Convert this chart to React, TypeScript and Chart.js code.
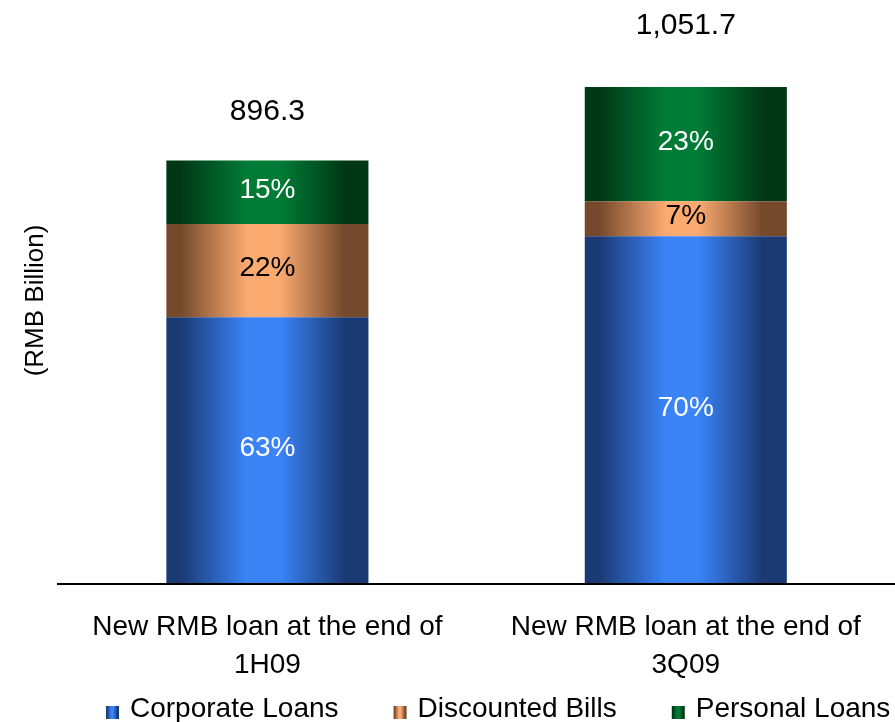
import { useEffect, useRef } from "react";
import { Chart, registerables } from "chart.js";

Chart.register(...registerables);

// Categories (two-line axis labels)
const categories: string[][] = [
  ["New RMB loan at the end of", "1H09"],
  ["New RMB loan at the end of", "3Q09"],
];

// New RMB loans, RMB billion, by type
const seriesNames = ["Corporate Loans", "Discounted Bills", "Personal Loans"];
const corporateLoans = [564.7, 736.2];
const discountedBills = [197.2, 73.6];
const personalLoans = [134.4, 241.9];

const Y_MAX = 1200;
const FONT = "'Liberation Sans', Arial, Helvetica, sans-serif";
const CAT_PCT = 1;
const BAR_PCT = 0.483;

// Cylinder-like horizontal shading for each series
const palette = [
  { dark: "#1b3a74", bright: "#3a84f8", text: "#ffffff" },
  { dark: "#74492c", bright: "#fbaa70", text: "#000000" },
  { dark: "#003816", bright: "#007c36", text: "#ffffff" },
];

// Gap between each total and the top of its stack
const totalOffsets = [49, 61];

const totals = corporateLoans.map(
  (v, i) => v + discountedBills[i] + personalLoans[i]
);
const formatTotal = (v: number) =>
  v.toLocaleString("en-US", { minimumFractionDigits: 1, maximumFractionDigits: 1 });

function fillGradient(
  ctx: CanvasRenderingContext2D,
  x0: number,
  x1: number,
  p: (typeof palette)[number]
) {
  const g = ctx.createLinearGradient(x0, 0, x1, 0);
  g.addColorStop(0, p.dark);
  g.addColorStop(0.07, p.dark);
  g.addColorStop(0.4, p.bright);
  g.addColorStop(0.56, p.bright);
  g.addColorStop(0.88, p.dark);
  g.addColorStop(1, p.dark);
  return g;
}

function barFill(series: number) {
  return (c: any) => {
    const chart = c.chart as Chart;
    const xs: any = chart.scales.x;
    if (!xs || !chart.chartArea) return palette[series].bright;
    const center = xs.getPixelForValue(c.dataIndex);
    const half = ((xs.width / categories.length) * CAT_PCT * BAR_PCT) / 2;
    return fillGradient(chart.ctx, center - half, center + half, palette[series]);
  };
}

// Share labels inside segments and totals above stacks
const valueLabels = {
  id: "valueLabels",
  afterDatasetsDraw(chart: Chart) {
    const ctx = chart.ctx;
    ctx.save();
    ctx.textAlign = "center";
    ctx.textBaseline = "middle";
    ctx.font = `28px ${FONT}`;
    chart.data.datasets.forEach((ds, di) => {
      const meta = chart.getDatasetMeta(di);
      meta.data.forEach((el: any, i) => {
        const { x, y, base } = el.getProps(["x", "y", "base"], true);
        const share = Math.round(((ds.data[i] as number) / totals[i]) * 100);
        ctx.fillStyle = palette[di].text;
        ctx.fillText(`${share}%`, x, (y + base) / 2 - 2);
      });
    });
    const topMeta = chart.getDatasetMeta(chart.data.datasets.length - 1);
    ctx.fillStyle = "#000000";
    ctx.font = `30px ${FONT}`;
    topMeta.data.forEach((el: any, i) => {
      const { x, y } = el.getProps(["x", "y"], true);
      ctx.fillText(formatTotal(totals[i]), x, y - totalOffsets[i]);
    });
    ctx.restore();
  },
};

// Legend row along the bottom edge
const bottomLegend = {
  id: "bottomLegend",
  afterDraw(chart: Chart) {
    const ctx = chart.ctx;
    ctx.save();
    ctx.font = `28px ${FONT}`;
    ctx.textBaseline = "alphabetic";
    ctx.textAlign = "left";
    const baseline = chart.height - 5;
    const box = 13;
    let x = 106;
    seriesNames.forEach((name, i) => {
      ctx.fillStyle = fillGradient(ctx, x, x + box, palette[i]);
      ctx.fillRect(x, baseline - 11, box, box);
      ctx.fillStyle = "#000000";
      ctx.fillText(name, x + 24, baseline);
      x += 24 + ctx.measureText(name).width + 55;
    });
    ctx.restore();
  },
};

export default function App() {
  const canvasRef = useRef<HTMLCanvasElement | null>(null);

  useEffect(() => {
    if (!canvasRef.current) return;
    const chart = new Chart(canvasRef.current, {
      type: "bar",
      data: {
        labels: categories,
        datasets: [
          { label: seriesNames[0], data: corporateLoans, backgroundColor: barFill(0) },
          { label: seriesNames[1], data: discountedBills, backgroundColor: barFill(1) },
          { label: seriesNames[2], data: personalLoans, backgroundColor: barFill(2) },
        ],
      },
      options: {
        responsive: false,
        animation: false,
        devicePixelRatio: 1,
        layout: { padding: { top: 17, bottom: 14, left: 0, right: 0 } },
        datasets: {
          bar: { categoryPercentage: CAT_PCT, barPercentage: BAR_PCT, borderWidth: 0 },
        },
        plugins: {
          legend: { display: false },
          tooltip: { enabled: false },
        },
        scales: {
          x: {
            stacked: true,
            grid: { display: false, drawTicks: false },
            border: { display: true, color: "#000000", width: 2, z: 1 },
            ticks: {
              color: "#000000",
              font: { family: FONT, size: 28, lineHeight: "38px" },
              padding: 24,
              maxRotation: 0,
              autoSkip: false,
            },
          },
          y: {
            stacked: true,
            min: 0,
            max: Y_MAX,
            grid: { display: false, drawTicks: false },
            border: { display: false },
            ticks: { display: false },
            title: {
              display: true,
              text: "(RMB Billion)",
              color: "#000000",
              font: { family: FONT, size: 26, lineHeight: 1.2 },
              padding: { top: 20, bottom: 7 },
            },
          },
        },
      },
      plugins: [valueLabels, bottomLegend],
    });
    return () => chart.destroy();
  }, []);

  return (
    <div style={{ position: "fixed", left: 0, top: 0, width: 895, height: 722, background: "#ffffff" }}>
      <canvas ref={canvasRef} width={895} height={722} style={{ display: "block" }} />
    </div>
  );
}
